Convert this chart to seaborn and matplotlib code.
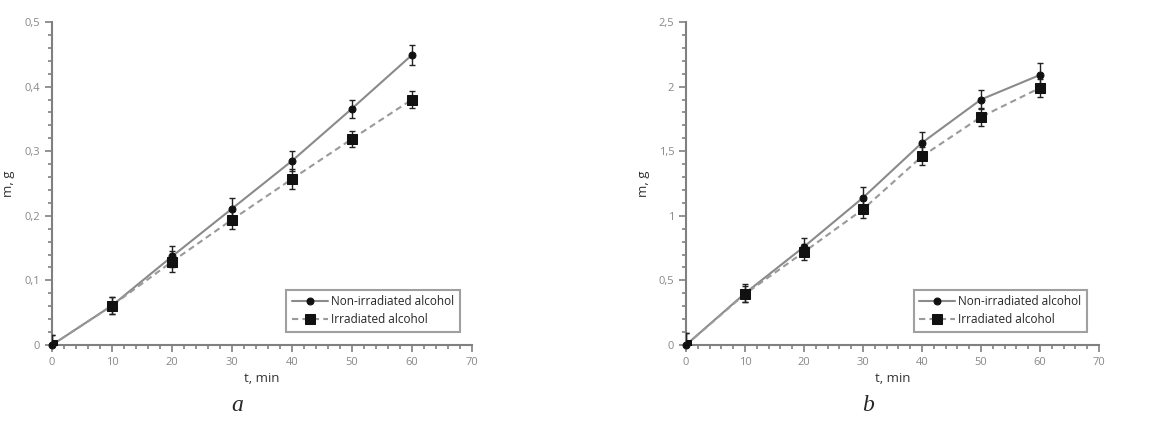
import matplotlib
matplotlib.use('Agg')
import matplotlib.pyplot as plt
from matplotlib.ticker import MultipleLocator, FuncFormatter
import seaborn as sns
import pandas as pd

t = [0, 10, 20, 30, 40, 50, 60]

# panel a
a_non = [0.0, 0.061, 0.137, 0.211, 0.285, 0.366, 0.449]
a_non_err = [0.016, 0.013, 0.017, 0.016, 0.015, 0.014, 0.016]
a_irr = [0.0, 0.061, 0.129, 0.194, 0.257, 0.319, 0.380]
a_irr_err = [0.016, 0.013, 0.016, 0.014, 0.015, 0.013, 0.013]

# panel b
b_non = [0.0, 0.40, 0.76, 1.14, 1.565, 1.90, 2.09]
b_non_err = [0.09, 0.07, 0.07, 0.08, 0.08, 0.07, 0.09]
b_irr = [0.0, 0.395, 0.72, 1.05, 1.46, 1.765, 1.99]
b_irr_err = [0.09, 0.06, 0.06, 0.07, 0.07, 0.07, 0.07]

labels = ['Non-irradiated alcohol', 'Irradiated alcohol']

sns.set_style('ticks')
plt.rcParams['font.family'] = ['Open Sans', 'DejaVu Sans']

fig = plt.figure(figsize=(11.7, 4.23), dpi=100)
ax1 = fig.add_axes([0.0444, 0.1844, 0.359, 0.7636])
ax2 = fig.add_axes([0.5863, 0.1844, 0.353, 0.7636])

def comma(v, pos):
    s = ('%g' % round(v, 3))
    return s.replace('.', ',')

def panel(ax, non, non_err, irr, irr_err, ymax, ymajor, letter):
    df = pd.DataFrame({'t': t, 'non': non, 'irr': irr})
    ax.errorbar(t, non, yerr=non_err, fmt='none', ecolor='#222222', elinewidth=1, capsize=2, capthick=1, zorder=3)
    ax.errorbar(t, irr, yerr=irr_err, fmt='none', ecolor='#222222', elinewidth=1, capsize=2, capthick=1, zorder=3)
    sns.lineplot(data=df, x='t', y='non', ax=ax, color='#8a8a8a', lw=1.5, marker='o', markersize=5,
                 markerfacecolor='#111111', markeredgecolor='#111111', label=labels[0], zorder=4, clip_on=False)
    sns.lineplot(data=df, x='t', y='irr', ax=ax, color='#9a9a9a', lw=1.5, linestyle=(0, (3, 2)), marker='s',
                 markersize=7, markerfacecolor='#111111', markeredgecolor='#111111', label=labels[1], zorder=4)
    ax.set_xlim(0, 70)
    ax.set_ylim(0, ymax)
    ax.xaxis.set_major_locator(MultipleLocator(10))
    ax.xaxis.set_minor_locator(MultipleLocator(2))
    ax.yaxis.set_major_locator(MultipleLocator(ymajor))
    ax.yaxis.set_minor_locator(MultipleLocator(ymajor / 5))
    ax.yaxis.set_major_formatter(FuncFormatter(comma))
    ax.tick_params(which='major', length=5, width=1.2, color='#808080', labelcolor='#888888', labelsize=8)
    ax.tick_params(which='minor', length=3, width=1.2, color='#808080')
    for s in ['top', 'right']:
        ax.spines[s].set_visible(False)
    for s in ['left', 'bottom']:
        ax.spines[s].set_color('#808080')
        ax.spines[s].set_linewidth(1.5)
    ax.set_xlabel('t, min', fontsize=9.5, color='#333333', labelpad=3)
    ax.set_ylabel('m, g', fontsize=9.5, color='#333333')
    ax.yaxis.set_label_coords(-0.088, 0.5)
    leg = ax.legend(loc='lower right', bbox_to_anchor=(0.972, 0.04), borderaxespad=0, fontsize=8.5,
                    frameon=True, fancybox=False, handlelength=3, borderpad=0.5, labelspacing=0.4,
                    handletextpad=0.3)
    leg.get_frame().set_edgecolor('#888888')
    leg.get_frame().set_linewidth(1.5)
    ax.text(0.44, -0.186, letter, transform=ax.transAxes, ha='center', va='center',
            fontsize=17, fontstyle='italic', family='Liberation Serif')

panel(ax1, a_non, a_non_err, a_irr, a_irr_err, 0.5, 0.1, 'a')
panel(ax2, b_non, b_non_err, b_irr, b_irr_err, 2.5, 0.5, 'b')

fig.savefig('out.png', dpi=100)
